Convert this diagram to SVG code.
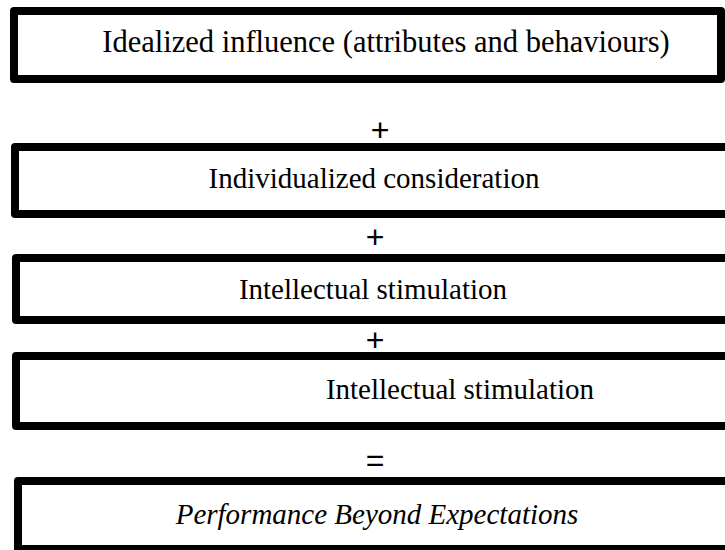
<svg xmlns="http://www.w3.org/2000/svg" width="725" height="550" viewBox="0 0 725 550">
  <style>
    .box { fill: #ffffff; stroke: #000000; stroke-width: 8; stroke-linejoin: round; }
    .label { font-family: "Liberation Serif", "Times New Roman", serif; font-size: 29px; fill: #000000; text-anchor: middle; }
    .italic { font-style: italic; }
    .op { font-family: "Liberation Sans", Arial, sans-serif; font-size: 32px; fill: #000000; text-anchor: middle; }
  </style>
  <rect width="725" height="550" fill="#ffffff"/>

  <g id="idealized-influence">
    <rect class="box" x="14" y="11" width="707" height="68"/>
    <text class="label" x="386" y="52" style="font-size:30.5px">Idealized influence (attributes and behaviours)</text>
  </g>

  <g id="individualized-consideration">
    <rect class="box" x="15" y="147" width="720" height="67"/>
    <text class="label" x="374" y="188">Individualized consideration</text>
  </g>

  <g id="intellectual-stimulation-1">
    <rect class="box" x="16" y="258" width="720" height="62"/>
    <text class="label" x="373" y="299">Intellectual stimulation</text>
  </g>

  <g id="intellectual-stimulation-2">
    <rect class="box" x="16" y="356" width="720" height="70"/>
    <text class="label" x="460" y="399">Intellectual stimulation</text>
  </g>

  <g id="performance">
    <rect class="box" x="18" y="481" width="720" height="68"/>
    <text class="label italic" x="377" y="524">Performance Beyond Expectations</text>
  </g>

  <!-- operators joining the stacked factors -->
  <g id="operators">
    <text class="op" x="380" y="141">+</text>
    <text class="op" x="375" y="248">+</text>
    <text class="op" x="375" y="351">+</text>
    <text class="op" x="375" y="471">=</text>
  </g>
</svg>
